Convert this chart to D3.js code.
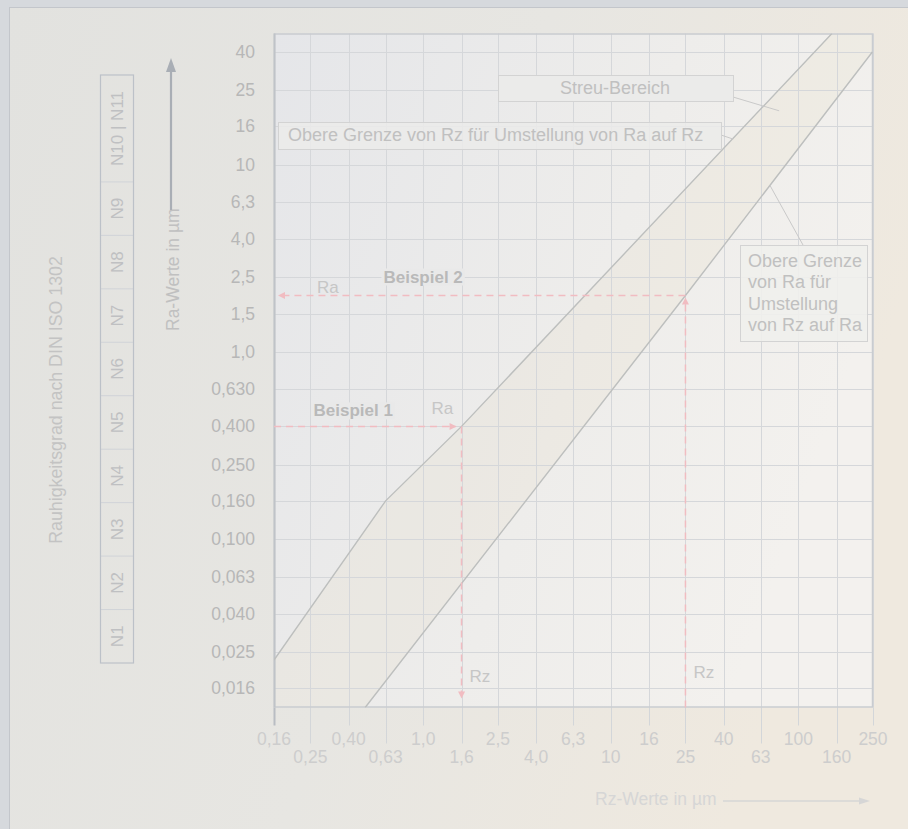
<!DOCTYPE html>
<html><head><meta charset="utf-8">
<script src="https://cdn.jsdelivr.net/npm/d3@7/dist/d3.min.js"></script>
<style>
html,body{margin:0;padding:0;background:#d5d8dc;}
svg{display:block;font-family:"Liberation Sans",Arial,Helvetica,sans-serif;}
</style>
</head><body>
<svg id="c" width="908" height="829"></svg>
<script>
// ---------- DATA ----------
const rzDomain = [0.16, 250];          // x axis (Rz, µm), log
const raDomain = [0.0126, 50.2];       // y axis (Ra, µm), log (half step beyond 0,016 / 40)
const xTickValues = [0.16,0.25,0.40,0.63,1.0,1.6,2.5,4.0,6.3,10,16,25,40,63,100,160,250];
const xTickLabels = ["0,16","0,25","0,40","0,63","1,0","1,6","2,5","4,0","6,3","10","16","25","40","63","100","160","250"];
const yTickValues = [0.016,0.025,0.040,0.063,0.100,0.160,0.250,0.400,0.630,1.0,1.6,2.5,4.0,6.3,10,16,25,40];
const yTickLabels = ["0,016","0,025","0,040","0,063","0,100","0,160","0,250","0,400","0,630","1,0","1,5","2,5","4,0","6,3","10","16","25","40"];
// Obere Grenze von Rz (Umstellung Ra -> Rz)
const upperRz = [0.16, 0.63, 1.6, 151];
const upperRa = [0.0226, 0.16, 0.40, 50.2];
// Obere Grenze von Ra (Umstellung Rz -> Ra)
const lowerRz = [0.49, 25, 248];
const lowerRa = [0.0126, 2.0, 40];
// Beispiele
const exampleNames = ["Beispiel 1","Beispiel 2"];
const exampleRz = [1.6, 25];
const exampleRa = [0.40, 2.0];
// Rauhigkeitsgrade
const nClasses = ["N1","N2","N3","N4","N5","N6","N7","N8","N9","N10 | N11"];
const nSpan    = [1,1,1,1,1,1,1,1,1,2];
// Annotation anchors (data units)
const annoStreu = [79, 19.4];
const annoRz = [44.9, 13.7];
const annoRa = [70.8, 7.7];

// ---------- SETUP ----------
const svg = d3.select("#c");
const W = 908, H = 829;
const P = {left:274, right:873, top:33.5, bottom:707.5};
const x = d3.scaleLog().domain(rzDomain).range([P.left, P.right]);
const y = d3.scaleLog().domain(raDomain).range([P.bottom, P.top]);

const defs = svg.append("defs");
const g1 = defs.append("linearGradient").attr("id","panel").attr("x1","0").attr("x2","1").attr("y1","0").attr("y2","0.3");
g1.append("stop").attr("offset","0").attr("stop-color","#e2e2df");
g1.append("stop").attr("offset","0.55").attr("stop-color","#e7e6e2");
g1.append("stop").attr("offset","1").attr("stop-color","#efe9df");
const g2 = defs.append("linearGradient").attr("id","plot").attr("x1","0").attr("x2","1").attr("y1","0").attr("y2","0.4");
g2.append("stop").attr("offset","0").attr("stop-color","#e5e6e9");
g2.append("stop").attr("offset","0.6").attr("stop-color","#eeedeb");
g2.append("stop").attr("offset","1").attr("stop-color","#f3f1ee");
defs.append("clipPath").attr("id","clip").append("rect")
  .attr("x",P.left).attr("y",P.top).attr("width",P.right-P.left).attr("height",P.bottom-P.top);

// outer + panel
svg.append("rect").attr("width",W).attr("height",H).attr("fill","#d6d9dd");
svg.append("rect").attr("x",9.5).attr("y",7.5).attr("width",W).attr("height",H)
  .attr("fill","url(#panel)").attr("stroke","#c3c6cb");

// plot bg
svg.append("rect").attr("x",P.left).attr("y",P.top).attr("width",P.right-P.left).attr("height",P.bottom-P.top)
  .attr("fill","url(#plot)");

// band between lines
const bandPts = upperRz.map((d,i)=>[d, upperRa[i]])
  .concat([[rzDomain[1], raDomain[1]]])
  .concat(lowerRz.map((d,i)=>[d, lowerRa[i]]).reverse())
  .concat([[rzDomain[0], raDomain[0]]]);
svg.append("path").attr("clip-path","url(#clip)")
  .attr("d", d3.line().x(d=>x(d[0])).y(d=>y(d[1]))(bandPts)+"Z")
  .attr("fill","#e8dcc4").attr("fill-opacity",0.2);

// grid
const grid = svg.append("g").attr("stroke","#d5d7da").attr("stroke-width",1);
grid.selectAll("line.v").data(xTickValues).join("line")
  .attr("x1",d=>Math.round(x(d))+0.5).attr("x2",d=>Math.round(x(d))+0.5)
  .attr("y1",P.top).attr("y2",P.bottom);
grid.selectAll("line.h").data(yTickValues).join("line")
  .attr("y1",d=>Math.round(y(d))+0.5).attr("y2",d=>Math.round(y(d))+0.5)
  .attr("x1",P.left).attr("x2",P.right);

// x ticks below plot
svg.append("g").selectAll("line").data(xTickValues).join("line")
  .attr("x1",d=>Math.round(x(d))+0.5).attr("x2",d=>Math.round(x(d))+0.5)
  .attr("y1",P.bottom).attr("y2",(d,i)=> i%2===0 ? P.bottom+18 : P.bottom+36)
  .attr("stroke",(d,i)=> (i===0) ? "#b9bdc3" : "#d3d6d9").attr("stroke-width",(d,i)=>i===0?2:1);

// plot border
svg.append("rect").attr("x",P.left+0.5).attr("y",P.top+0.5).attr("width",P.right-P.left-1).attr("height",P.bottom-P.top-1)
  .attr("fill","none").attr("stroke","#c9ccd0").attr("stroke-width",1.5);
svg.append("line").attr("x1",P.left+0.5).attr("x2",P.left+0.5).attr("y1",P.top).attr("y2",P.bottom)
  .attr("stroke","#bfc3c8").attr("stroke-width",2);

// boundary lines
const lineGen = d3.line().x(d=>x(d[0])).y(d=>y(d[1]));
const lines = svg.append("g").attr("clip-path","url(#clip)").attr("fill","none")
  .attr("stroke","#bdbfbe").attr("stroke-width",1.4);
lines.append("path").attr("d", lineGen(upperRz.map((d,i)=>[d,upperRa[i]])));
lines.append("path").attr("d", lineGen(lowerRz.map((d,i)=>[d,lowerRa[i]])));

// y tick labels
const tickCol = "#b7b7b7";
svg.append("g").selectAll("text").data(yTickValues).join("text")
  .attr("x",255).attr("y",d=>y(d)+6).attr("text-anchor","end")
  .attr("font-size",17.5).attr("fill",tickCol).text((d,i)=>yTickLabels[i]);
// x tick labels (two rows)
svg.append("g").selectAll("text").data(xTickValues).join("text")
  .attr("x",d=>x(d)).attr("y",(d,i)=> i%2===0 ? 745 : 763).attr("text-anchor","middle")
  .attr("font-size",17.5).attr("fill","#cdcdcd").text((d,i)=>xTickLabels[i]);

// ---------- Beispiele ----------
const pink = "#f1bcc1";
const ex = svg.append("g").attr("stroke",pink).attr("stroke-width",1.5).attr("stroke-dasharray","7,5").attr("fill","none");
function arrow(px,py,dir){
  const s=7,w=3.5; let pts;
  if(dir==="right") pts=[[px,py],[px-s,py-w],[px-s,py+w]];
  if(dir==="left")  pts=[[px,py],[px+s,py-w],[px+s,py+w]];
  if(dir==="up")    pts=[[px,py],[px-w,py+s],[px+w,py+s]];
  if(dir==="down")  pts=[[px,py],[px-w,py-s],[px+w,py-s]];
  svg.append("path").attr("d","M"+pts.map(p=>p.join(",")).join("L")+"Z").attr("fill",pink);
}
// Beispiel 1: Ra -> Rz
{
  const ex1x = x(exampleRz[0]), ex1y = y(exampleRa[0]);
  ex.append("line").attr("x1",P.left).attr("x2",ex1x-6).attr("y1",ex1y).attr("y2",ex1y);
  arrow(ex1x-5, ex1y, "right");
  ex.append("line").attr("x1",ex1x).attr("x2",ex1x).attr("y1",ex1y).attr("y2",P.bottom-12);
  arrow(ex1x, P.bottom-9, "down");
}
// Beispiel 2: Rz -> Ra
{
  const ex2x = x(exampleRz[1]), ex2y = y(exampleRa[1]);
  ex.append("line").attr("x1",ex2x).attr("x2",ex2x).attr("y1",P.bottom).attr("y2",ex2y+6);
  arrow(ex2x, ex2y+2, "up");
  ex.append("line").attr("x1",ex2x).attr("x2",P.left+10).attr("y1",ex2y).attr("y2",ex2y);
  arrow(P.left+4, ex2y, "left");
}
const lblCol = "#c6c6c6";
// Beispiel labels
function bgLabel(tx, ty, txt){
  const t = svg.append("text").attr("x",tx).attr("y",ty).attr("font-size",17).attr("font-weight","bold")
    .attr("fill","#b9b9b9").text(txt);
  const bb = t.node().getBBox();
  svg.insert("rect", () => t.node()).attr("x",bb.x-2).attr("y",bb.y+1).attr("width",bb.width+4).attr("height",bb.height-2)
    .attr("fill","#e9e9e9");
}
bgLabel(x(exampleRz[0]) - 148, y(exampleRa[0]) - 10, exampleNames[0]);
bgLabel(x(exampleRz[1]) - 302, y(exampleRa[1]) - 13, exampleNames[1]);
svg.append("text").attr("x",x(exampleRz[0])-30).attr("y",y(exampleRa[0])-12).attr("font-size",17).attr("fill",lblCol).text("Ra");
svg.append("text").attr("x",P.left+43).attr("y",y(exampleRa[1])-3).attr("font-size",17).attr("fill",lblCol).text("Ra");
svg.append("text").attr("x",x(exampleRz[0])+8).attr("y",682).attr("font-size",17).attr("fill",lblCol).text("Rz");
svg.append("text").attr("x",x(exampleRz[1])+8).attr("y",678).attr("font-size",17).attr("fill",lblCol).text("Rz");

// ---------- Annotations ----------
const boxFill = "#ebebea", boxStroke = "#d3d3d3", annoCol = "#c0c0c0";
// leader lines
const lead = svg.append("g").attr("stroke","#c9c9c9").attr("stroke-width",1);
lead.append("line").attr("x1",733).attr("y1",97).attr("x2",x(annoStreu[0])).attr("y2",y(annoStreu[1]));
lead.append("line").attr("x1",721).attr("y1",135).attr("x2",x(annoRz[0])).attr("y2",y(annoRz[1]));
lead.append("line").attr("x1",803).attr("y1",245).attr("x2",x(annoRa[0])).attr("y2",y(annoRa[1]));
// Streu-Bereich
svg.append("rect").attr("x",498.5).attr("y",75.5).attr("width",235).attr("height",26).attr("fill",boxFill).attr("stroke",boxStroke);
svg.append("text").attr("x",615).attr("y",93.5).attr("text-anchor","middle").attr("font-size",18).attr("fill",annoCol).text("Streu-Bereich");
// Obere Grenze von Rz
svg.append("rect").attr("x",278.5).attr("y",122.5).attr("width",443).attr("height",27).attr("fill",boxFill).attr("fill-opacity",0.85).attr("stroke",boxStroke);
svg.append("text").attr("x",288).attr("y",141).attr("font-size",18).attr("fill",annoCol).text("Obere Grenze von Rz für Umstellung von Ra auf Rz");
// Obere Grenze von Ra
svg.append("rect").attr("x",740.5).attr("y",245.5).attr("width",127).attr("height",96).attr("fill","#f0efec").attr("fill-opacity",0.9).attr("stroke",boxStroke);
const raLines = ["Obere Grenze","von Ra für","Umstellung","von Rz auf Ra"];
svg.append("text").attr("font-size",18).attr("fill",annoCol).selectAll("tspan").data(raLines).join("tspan")
  .attr("x",748).attr("y",(d,i)=>267+i*21.3).text(d=>d);

// ---------- Left legend ----------
const nTop = 75, nBot = 663, nX = 100.5, nW = 33;
const unit = (nBot-nTop)/d3.sum(nSpan);
let acc = 0;
const cells = nClasses.map((c,i)=>{ const y1 = nBot - (acc+nSpan[i])*unit, y0 = nBot - acc*unit; acc += nSpan[i]; return {c, y0, y1}; });
const leg = svg.append("g");
leg.selectAll("line").data(cells.slice(0,-1)).join("line")
  .attr("x1",nX).attr("x2",nX+nW).attr("y1",d=>d.y1).attr("y2",d=>d.y1).attr("stroke","#d0d3d8");
leg.append("rect").attr("x",nX).attr("y",nTop).attr("width",nW).attr("height",nBot-nTop)
  .attr("fill","none").attr("stroke","#bcc1c8").attr("stroke-width",1.2);
leg.selectAll("text").data(cells).join("text")
  .attr("transform",d=>`translate(${nX+nW/2+6},${(d.y0+d.y1)/2}) rotate(-90)`)
  .attr("text-anchor","middle").attr("font-size",17).attr("fill","#bfc0c2")
  .text(d=>d.c);

svg.append("text").attr("transform","translate(62,400) rotate(-90)").attr("text-anchor","middle")
  .attr("font-size",17.8).attr("fill","#c3c3c3").text("Rauhigkeitsgrad nach DIN ISO 1302");

// Ra axis title + arrow
svg.append("text").attr("transform","translate(179,331) rotate(-90)").attr("text-anchor","start")
  .attr("font-size",17.5).attr("fill","#c0c0c0").text("Ra-Werte in µm");
svg.append("line").attr("x1",171).attr("x2",171).attr("y1",210).attr("y2",68).attr("stroke","#a9aeb5").attr("stroke-width",2.2);
svg.append("path").attr("d","M171,58L166,72L176,72Z").attr("fill","#a9aeb5");

// Rz axis title + arrow
svg.append("text").attr("x",595).attr("y",805).attr("font-size",17.5).attr("fill","#d6d6d6").text("Rz-Werte in µm");
svg.append("line").attr("x1",723).attr("x2",862).attr("y1",801).attr("y2",801).attr("stroke","#d6d6d6").attr("stroke-width",1.5);
svg.append("path").attr("d","M870,801L859,797.5L859,804.5Z").attr("fill","#d6d6d6");
</script>
</body></html>
